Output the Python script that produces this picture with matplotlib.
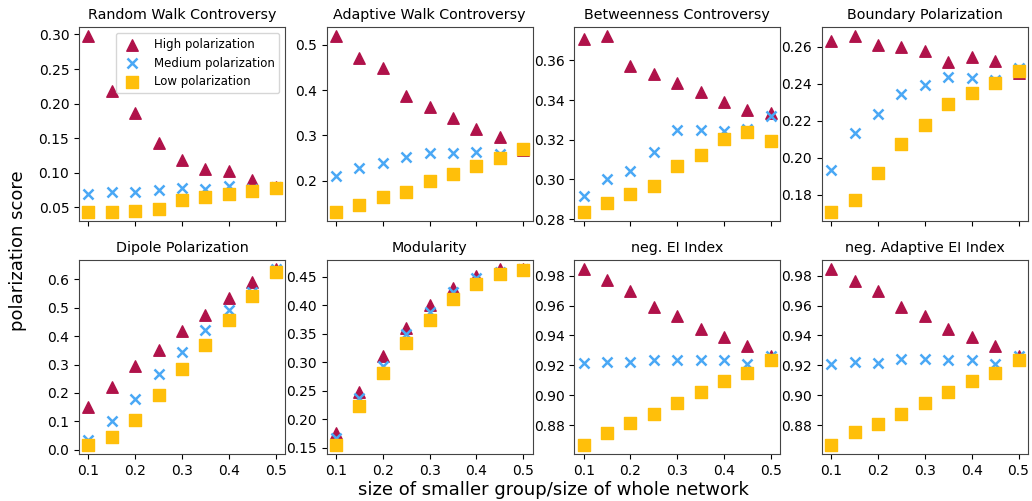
import numpy as np
from matplotlib import pyplot as plt
from matplotlib.ticker import MultipleLocator

# x values: relative size of the smaller group
sizes = [0.1, 0.15, 0.2, 0.25, 0.3, 0.35, 0.4, 0.45, 0.5]

titles = ['Random Walk Controversy', 'Adaptive Walk Controversy', 'Betweenness Controversy',
          'Boundary Polarization', 'Dipole Polarization', 'Modularity',
          'neg. EI Index', 'neg. Adaptive EI Index']

# y tick step per panel
ystep = [0.05, 0.1, 0.02, 0.02, 0.1, 0.05, 0.02, 0.02]

# High polarization scores per measure
rwc_high = [0.298, 0.219, 0.187, 0.143, 0.119, 0.105, 0.102, 0.090, 0.080]
arwc_high = [0.520, 0.472, 0.448, 0.388, 0.363, 0.339, 0.315, 0.297, 0.268]
bc_high = [0.3708, 0.3723, 0.3571, 0.3531, 0.3487, 0.3442, 0.3390, 0.3351, 0.3336]
bp_high = [0.2631, 0.2660, 0.2611, 0.2600, 0.2580, 0.2520, 0.2546, 0.2524, 0.2459]
dp_high = [0.152, 0.220, 0.295, 0.353, 0.417, 0.476, 0.536, 0.591, 0.638]
mod_high = [0.1765, 0.2472, 0.3115, 0.3608, 0.3996, 0.4297, 0.4517, 0.4627, 0.4640]
ei_high = [0.9847, 0.9769, 0.9695, 0.9593, 0.9530, 0.9444, 0.9388, 0.9328, 0.9260]
aei_high = [0.9847, 0.9767, 0.9698, 0.9591, 0.9530, 0.9443, 0.9389, 0.9329, 0.9260]

# Medium polarization scores
rwc_med = [0.069, 0.072, 0.072, 0.075, 0.078, 0.076, 0.081, 0.077, 0.080]
arwc_med = [0.210, 0.228, 0.239, 0.253, 0.260, 0.262, 0.263, 0.258, 0.270]
bc_med = [0.2918, 0.3000, 0.3044, 0.3136, 0.3247, 0.3250, 0.3245, 0.3255, 0.3318]
bp_med = [0.1936, 0.2135, 0.2240, 0.2347, 0.2392, 0.2437, 0.2430, 0.2423, 0.2486]
dp_med = [0.033, 0.100, 0.178, 0.266, 0.344, 0.422, 0.492, 0.556, 0.638]
mod_med = [0.168, 0.2374, 0.2936, 0.3492, 0.3890, 0.4228, 0.4470, 0.4575, 0.4630]
ei_med = [0.9216, 0.9221, 0.9221, 0.9237, 0.9237, 0.9237, 0.9234, 0.9208, 0.9260]
aei_med = [0.9212, 0.9221, 0.9216, 0.9243, 0.9243, 0.9239, 0.9239, 0.9208, 0.9260]

# Low polarization scores
rwc_low = [0.043, 0.044, 0.045, 0.047, 0.060, 0.065, 0.070, 0.074, 0.078]
arwc_low = [0.130, 0.146, 0.164, 0.175, 0.200, 0.214, 0.232, 0.249, 0.270]
bc_low = [0.2835, 0.2880, 0.2929, 0.2968, 0.3070, 0.3121, 0.3202, 0.3239, 0.3193]
bp_low = [0.1706, 0.1775, 0.1921, 0.2077, 0.2176, 0.2292, 0.2350, 0.2406, 0.2468]
dp_low = [0.016, 0.045, 0.103, 0.192, 0.283, 0.370, 0.458, 0.542, 0.626]
mod_low = [0.155, 0.2235, 0.2814, 0.3335, 0.3747, 0.4106, 0.4373, 0.4546, 0.4622]
ei_low = [0.8666, 0.8749, 0.8811, 0.8871, 0.8951, 0.9020, 0.9092, 0.9150, 0.9237]
aei_low = [0.8666, 0.8751, 0.8810, 0.8873, 0.8951, 0.9020, 0.9093, 0.9152, 0.9237]

high = [rwc_high, arwc_high, bc_high, bp_high, dp_high, mod_high, ei_high, aei_high]
med = [rwc_med, arwc_med, bc_med, bp_med, dp_med, mod_med, ei_med, aei_med]
low = [rwc_low, arwc_low, bc_low, bp_low, dp_low, mod_low, ei_low, aei_low]

c_high = '#b0124a'
c_med = '#4aa8f5'
c_low = '#ffbf0a'

fig, axes = plt.subplots(2, 4, figsize=(10.32, 5.01), dpi=100, sharex=True)
fig.subplots_adjust(left=0.0766, right=0.996, top=0.946, bottom=0.094,
                    wspace=0.202, hspace=0.2)

for i, ax in enumerate(axes.flat):
    ax.scatter(sizes, high[i], marker='^', s=68, color=c_high, label='High polarization')
    ax.scatter(sizes, med[i], marker='x', s=52, color=c_med, linewidths=1.8, label='Medium polarization')
    ax.scatter(sizes, low[i], marker='s', s=68, color=c_low, label='Low polarization')
    ax.set_title(titles[i], fontsize=10.3)
    ax.tick_params(labelsize=10)
    ax.set_xticks([0.1, 0.2, 0.3, 0.4, 0.5])
    ax.yaxis.set_major_locator(MultipleLocator(ystep[i]))
    for sp in ax.spines.values():
        sp.set_color('#444444')

axes[0, 0].legend(loc='upper right', fontsize=8.5)

fig.text(0.017, 0.5, 'polarization score', rotation=90, va='center', ha='center', fontsize=13)
fig.text(0.536, 0.022, 'size of smaller group/size of whole network', ha='center', va='center', fontsize=13)

plt.savefig('out.png', dpi=100)
